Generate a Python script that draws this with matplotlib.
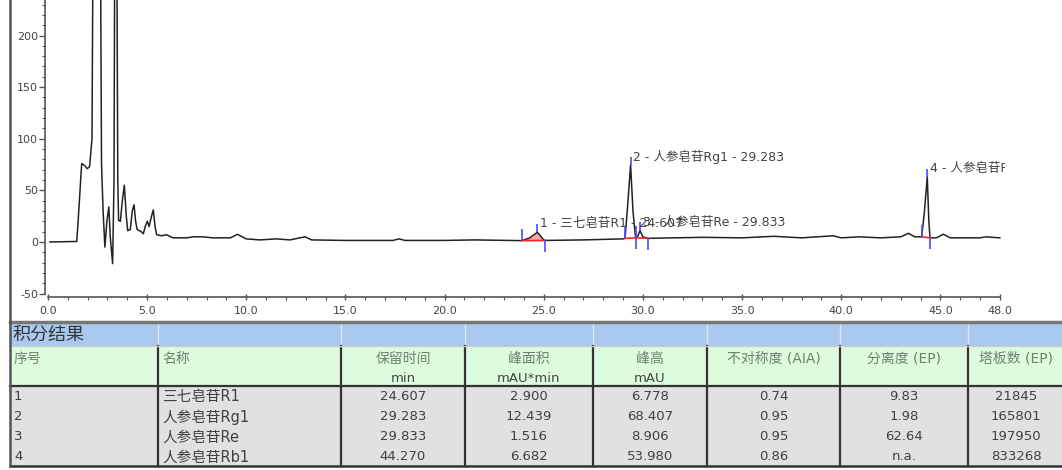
import matplotlib.pyplot as plt
import numpy as np

plt.rcParams['font.family'] = ['DejaVu Sans', 'Noto Sans CJK SC']
plt.rcParams['axes.unicode_minus'] = False

# chromatogram trace (min, mAU)
trace_t = [0.1, 1.45, 1.52, 1.70, 1.85, 1.98, 2.10, 2.22, 2.30, 2.45, 2.62, 2.70, 2.78,
           2.87, 2.97, 3.07, 3.14, 3.26, 3.33, 3.40, 3.47, 3.52, 3.56, 3.65, 3.75, 3.85,
           3.95, 4.02, 4.15, 4.25, 4.34, 4.42, 4.50, 4.70, 4.81, 4.92, 5.01, 5.10, 5.22,
           5.31, 5.40, 5.48, 5.73, 5.98, 6.30, 7.00, 7.30, 7.80, 8.30, 9.20, 9.55, 10.0,
           10.7, 11.5, 12.2, 12.96, 13.3, 15.0, 17.4, 17.7, 18.0, 20.0, 21.5, 23.9, 24.3,
           24.68, 25.0, 25.06, 27.0, 29.0, 29.1, 29.25, 29.38, 29.5, 29.63, 29.75, 29.85,
           30.0, 30.25, 31.5, 33.0, 35.0, 36.6, 38.0, 39.6, 40.0, 40.9, 42.0, 43.0, 43.4,
           43.7, 44.06, 44.2, 44.34, 44.42, 44.48, 44.8, 45.15, 45.5, 47.0, 47.3, 48.0]
trace_v = [0, 0.5, 20, 76, 74, 71, 73, 100, 400, 600, 400, 76, 30,
           -5, 20, 34, 5, -21, 60, 500, 300, 60, 21, 20, 40, 55,
           25, 11, 12, 30, 36, 20, 12, 10, 8, 16, 20, 15, 25,
           31, 15, 7, 6, 7, 4, 4, 5, 5, 4, 4, 7.4, 3,
           2, 3, 2, 5, 2, 1.5, 1.5, 3, 1.5, 1.5, 2, 1.3, 4,
           9.4, 2, 1.5, 2, 3, 3.5, 40, 74.6, 30, 4, 6, 11,
           5, 3.5, 4, 4.5, 4, 5.5, 4, 6, 4, 5, 4, 5, 8.4,
           5, 5, 30, 63, 20, 4, 4, 7.5, 4, 4, 5, 4]

# integrated peaks
peak_labels = ["1 - 三七皂苷R1 - 24.607", "2 - 人参皂苷Rg1 - 29.283",
               "3 - 人参皂苷Re - 29.833", "4 - 人参皂苷Rb1 - 44.270"]
peak_rt = [24.68, 29.38, 29.85, 44.34]
peak_start = [23.9, 29.1, 29.63, 44.06]
peak_end = [25.06, 29.63, 30.25, 44.48]
peak_filled = [True, False, False, False]

# result table
title = "积分结果"
col_names = ["序号", "名称", "保留时间", "峰面积", "峰高", "不对称度 (AIA)", "分离度 (EP)", "塔板数 (EP)"]
col_units = ["", "", "min", "mAU*min", "mAU", "", "", ""]
no = ["1", "2", "3", "4"]
names = ["三七皂苷R1", "人参皂苷Rg1", "人参皂苷Re", "人参皂苷Rb1"]
ret_time = ["24.607", "29.283", "29.833", "44.270"]
area = ["2.900", "12.439", "1.516", "6.682"]
height = ["6.778", "68.407", "8.906", "53.980"]
asym = ["0.74", "0.95", "0.95", "0.86"]
resol = ["9.83", "1.98", "62.64", "n.a."]
plates = ["21845", "165801", "197950", "833268"]

W, H = 1062, 470
fig = plt.figure(figsize=(W / 100, H / 100), dpi=100)

# ---- table, drawn in pixel units on a full-figure axes
tab = fig.add_axes([0, 0, 1, 1], zorder=0)
tab.set_xlim(0, W)
tab.set_ylim(H, 0)
tab.axis('off')

edges = [10, 158, 341, 465, 593, 707, 840, 968, W + 2]
y_blue, y_green, y_gray, y_end = 322, 346, 386, 466
row_h = (y_end - y_gray) / len(no)

tab.add_patch(plt.Rectangle((10, y_blue), W, y_green - y_blue, color='#a9c9ee', lw=0))
tab.add_patch(plt.Rectangle((10, y_green), W, y_gray - y_green, color='#ddfcdd', lw=0))
tab.add_patch(plt.Rectangle((10, y_gray), W, y_end - y_gray, color='#e1e1e1', lw=0))
for x in edges[1:-1]:
    tab.plot([x, x], [y_blue, y_green], color='#d8e6f6', lw=1)
    tab.plot([x, x], [y_green, y_end], color='#333333', lw=1.6)
tab.plot([10, W], [y_blue, y_blue], color='#777777', lw=2.5)
tab.plot([10, W], [y_green, y_green], color='#cccccc', lw=1)
tab.plot([10, W], [y_gray, y_gray], color='#333333', lw=1.6)
tab.plot([10, W], [y_end, y_end], color='#333333', lw=1.8)
tab.plot([10, 10], [0, y_end], color='#555555', lw=1.8)

tab.text(12, (y_blue + y_green) / 2 + 1, title, fontsize=13, color='#333333',
         va='center', ha='left')

cols = [no, names, ret_time, area, height, asym, resol, plates]
for i, col in enumerate(cols):
    if i < 2:
        x, ha = edges[i] + 4, 'left'
    else:
        x, ha = (edges[i] + edges[i + 1]) / 2, 'center'
    tab.text(x, 359, col_names[i], fontsize=10, color='#6f806f', ha=ha, va='center')
    if col_units[i]:
        tab.text(x, 379, col_units[i], fontsize=9.5, color='#444444', ha=ha, va='center')
    fs = 10.5 if i == 1 else 9.5
    for r, val in enumerate(col):
        tab.text(x, y_gray + row_h * (r + 0.5) + 1, val, fontsize=fs, color='#404040',
                 ha=ha, va='center')

# ---- chromatogram
ax = fig.add_axes([45 / W, 1 - 297 / H, 960 / W, 297 / H], zorder=1)
ax.patch.set_alpha(0)
ax.plot(trace_t, trace_v, color='#222222', lw=1.1)

t = np.array(trace_t)
v = np.array(trace_v)
for lab, rt, s, e, filled in zip(peak_labels, peak_rt, peak_start, peak_end, peak_filled):
    vs, ve = np.interp(s, t, v), np.interp(e, t, v)
    if filled:
        m = (t > s) & (t < e)
        xs = np.concatenate([[s], t[m], [e]])
        ys = np.concatenate([[vs], v[m], [ve]])
        base = np.interp(xs, [s, e], [vs, ve])
        ax.fill_between(xs, base, ys, color='#ffaaaa', lw=0)
    ax.plot([s, e], [vs, ve], color='#ff2020', lw=1.2)
    apex = np.interp(rt, t, v)
    ax.vlines(s, vs, vs + 11, color='#4a4aff', lw=1.2)
    ax.vlines(e, ve - 11, ve, color='#4a4aff', lw=1.2)
    ax.vlines(rt, apex, apex + 8, color='#4a4aff', lw=1.2)
    ax.text(rt, apex, lab, fontsize=9, color='#444444', va='center', ha='left',
            transform=ax.transData + plt.matplotlib.transforms.ScaledTranslation(
                2 / 72, 6 / 72, fig.dpi_scale_trans),
            clip_on=True)

ax.set_xlim(-0.15, 48.26)
ax.set_ylim(-53.3, 234.4)
ax.spines['top'].set_visible(False)
ax.spines['right'].set_visible(False)
ax.spines['left'].set_bounds(-50, 234.4)
ax.spines['bottom'].set_bounds(0, 48)
for sp in ['left', 'bottom']:
    ax.spines[sp].set_color('#555555')
    ax.spines[sp].set_linewidth(1.2)

xmaj = list(np.arange(0, 46, 5)) + [48]
ax.set_xticks(xmaj)
ax.set_xticklabels([f"{x:.1f}" for x in xmaj])
ax.set_xticks(np.arange(0, 49, 1), minor=True)
ax.set_yticks(np.arange(-50, 201, 50))
ax.set_yticks(np.arange(-50, 231, 10), minor=True)
ax.tick_params(axis='both', which='major', labelsize=8, labelcolor='#444444',
               color='#555555', length=4, width=1, pad=1)
ax.tick_params(axis='both', which='minor', color='#555555', length=2, width=0.8)
ax.tick_params(axis='x', which='major', direction='inout', length=5, pad=4)

fig.savefig('out.png', dpi=100)
